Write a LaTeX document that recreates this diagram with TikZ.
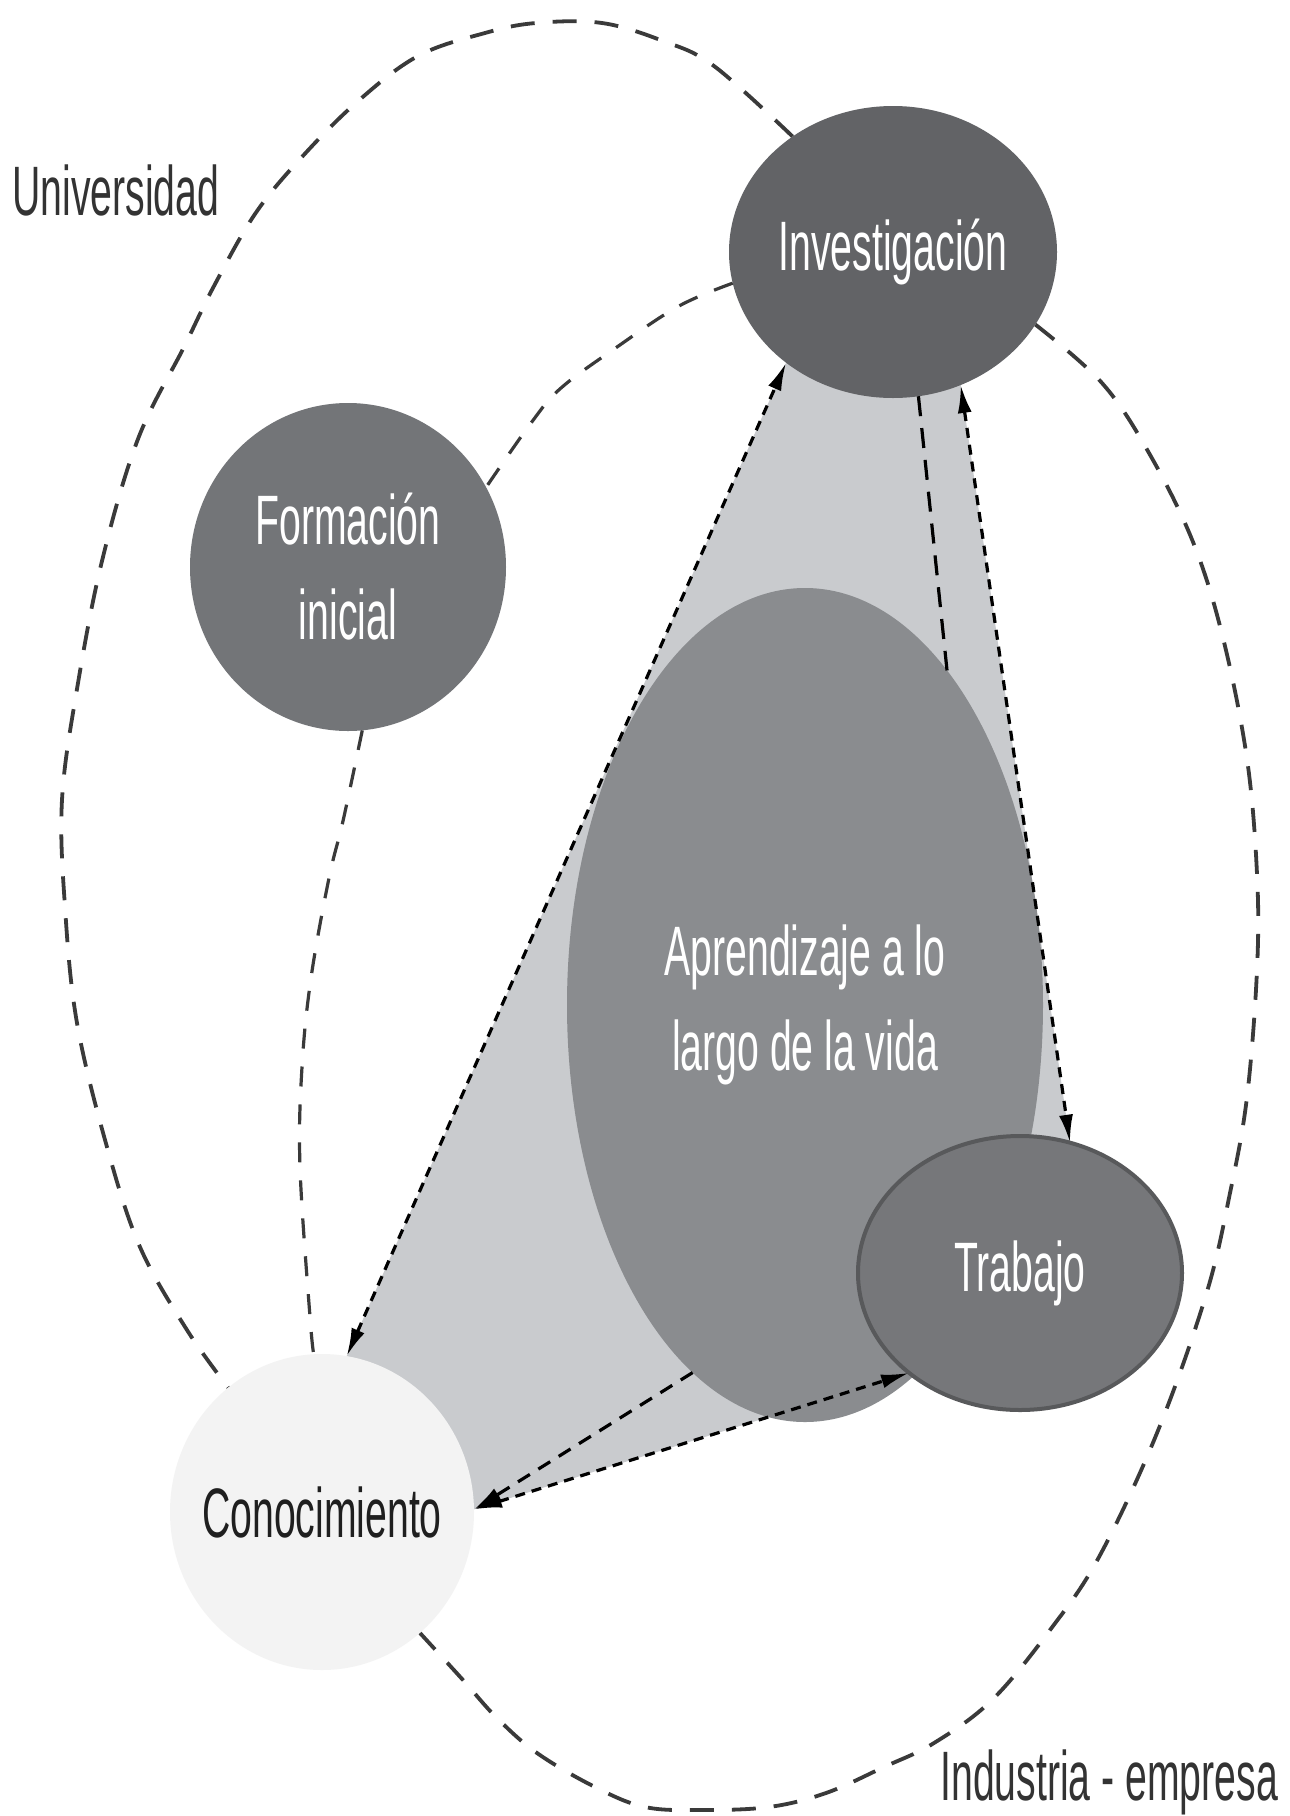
\documentclass[tikz,border=0pt]{standalone}
\usepackage{fontspec}
\setmainfont{Liberation Sans}[FakeStretch=0.56]
\usetikzlibrary{shapes.geometric,arrows.meta}
\pgfdeclarelayer{bg}
\pgfsetlayers{bg,main}
\definecolor{cInv}{HTML}{626366}
\definecolor{cForm}{HTML}{737578}
\definecolor{cApr}{HTML}{8A8C8F}
\definecolor{cTrab}{HTML}{76777A}
\definecolor{cTrabB}{HTML}{58595B}
\definecolor{cTri}{HTML}{C9CBCE}
\definecolor{cCon}{HTML}{F3F3F3}
\definecolor{cLoop}{HTML}{3A3A3A}
\definecolor{cLab}{HTML}{333333}
\begin{document}
\begin{tikzpicture}[x=0.5pt,y=-0.5pt,
  blob/.style={ellipse,inner sep=0pt,outer sep=0pt,draw=none,text=white,
    font=\fontsize{35}{47.5}\selectfont,align=center},
  lab/.style={inner sep=0pt,text=cLab,font=\fontsize{35}{47.5}\selectfont},
  loopline/.style={draw=cLoop,line width=1.9pt,dash pattern=on 12pt off 9pt},
  innerline/.style={draw=cLoop,line width=1.6pt,dash pattern=on 10pt off 9pt},
  arr/.style={draw=black,line width=1.6pt,dash pattern=on 5pt off 3.5pt},
  tip/.style={-{Latex[length=14pt,width=7pt]}},
  dtip/.style={{Latex[length=14pt,width=7pt]}-{Latex[length=14pt,width=7pt]}}]

\useasboundingbox (0,0) rectangle (1290,1816);

% nodes
\node[blob,fill=cApr,minimum width=238pt,minimum height=417pt] (apr) at (805,1005)
  {Aprendizaje a lo\\largo de la vida};
\node[blob,fill=cInv,minimum width=164pt,minimum height=146pt] (inv) at (893,252) {Investigación};
\node[blob,fill=cForm,minimum width=158pt,minimum height=164pt] (form) at (348,567) {Formación\\inicial};
\node[blob,fill=cTrab,draw=cTrabB,line width=2pt,minimum width=162pt,minimum height=137pt] (trab) at (1020,1273) {Trabajo};
\node[blob,fill=cCon,text=black!88,minimum width=152pt,minimum height=158pt] (con) at (322,1512)
  {\makebox[0pt][c]{Conocimiento}};

\node[lab,anchor=base west] (univ) at (12,215) {Universidad};
\node[lab,anchor=base west] (ind) at (940,1800) {Industria - empresa};

\begin{pgfonlayer}{bg}
  \fill[white] (0,0) rectangle (1290,1816);
  % light triangle
  \fill[cTri] (con.81) -- (inv.226) -- (inv.-63) -- (trab.69) -- (trab.222) -- (con.1) -- cycle;
  % Universidad loop
  \draw[loopline] plot[smooth,tension=0.6] coordinates {(inv.131) (714,66) (663,41) (602,23)
    (536,23) (485,33) (418,56) (357,102) (301,158) (255,214) (214,286) (184,347) (138,439)
    (102,561) (77,689) (62,800) (65,907) (77,1023) (107,1147) (140,1247) (187,1330) (con.127)};
  % Industria loop
  \draw[loopline] plot[smooth,tension=0.6] coordinates {(inv.-27) (1102,383) (1149,453) (1193,542)
    (1223,638) (1247,759) (1257,874) (1257,970) (1247,1097) (1230,1193) (1206,1295)
    (1157,1433) (1099,1557) (1050,1630) (992,1700) (934,1743) (884,1767) (826,1793)
    (769,1807) (702,1810) (645,1807) (595,1787) (537,1753) (496,1717) (463,1680) (con.-51)};
  % inner boundary of Universidad
  \draw[innerline] plot[smooth,tension=0.6] coordinates {(inv.191) (679,306) (617,347) (561,388) (531,423) (form.30)};
  \draw[innerline] plot[smooth,tension=0.6] coordinates {(form.-85) (343,821) (329,878) (311,978)
    (302,1067) (300,1167) (310,1317) (con.93)};
\end{pgfonlayer}

% connectors
\draw[arr,dtip] (con.81) -- (inv.226);
\draw[arr,dtip] (inv.-63) -- (trab.69);
\draw[arr,dtip] (con.1) -- (trab.222);
\draw[arr,dash pattern=on 10pt off 6pt] (inv.-80) -- (apr.67);
\draw[arr,tip,dash pattern=on 7pt off 5pt] (apr.253) -- (con.1);
\end{tikzpicture}
\end{document}
